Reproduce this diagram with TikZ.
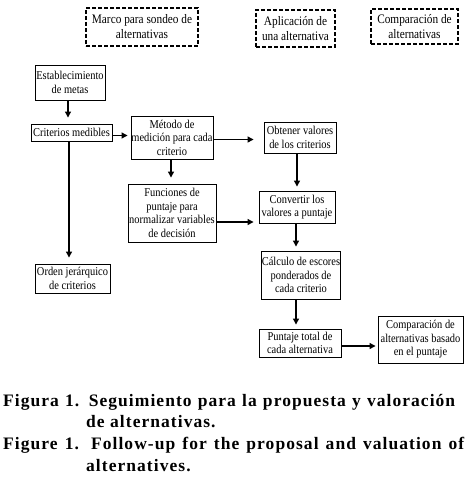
\documentclass[tikz,border=0pt]{standalone}
\usepackage{fontspec}
\setmainfont{Liberation Serif}
\newfontfamily\boxfont[FakeStretch=0.87]{Liberation Serif}
\newfontfamily\capfont[LetterSpace=6]{Liberation Serif}
\usetikzlibrary{arrows.meta}
\tikzset{
  box/.style={draw, line width=0.9pt, align=center, inner sep=0pt, font=\boxfont\fontsize{12}{13.5}\selectfont},
  dbox/.style={draw, dashed, dash pattern=on 4pt off 2pt, line width=1.4pt, align=center, inner sep=0pt, font=\boxfont\fontsize{13}{15}\selectfont},
  arr/.style={line width=1.2pt, -{Triangle[length=6pt,width=6pt]}},
  captext/.style={anchor=base west, inner sep=0pt, font=\capfont\bfseries\fontsize{17.5}{20}\selectfont}
}
\begin{document}
\begin{tikzpicture}[x=1pt,y=-1pt]
\useasboundingbox (0,0) rectangle (472,484);
\fill[white] (0,0) rectangle (472,484);
% dashed header boxes
\node[dbox, minimum width=112pt, minimum height=38pt] (d1) at (142,27) {Marco para sondeo de\\alternativas};
\node[dbox, minimum width=79pt, minimum height=37pt] (d2) at (295.5,28.5) {Aplicación de\\una alternativa};
\node[dbox, minimum width=87pt, minimum height=35pt] (d3) at (414.5,26.5) {Comparación de\\alternativas};
% boxes
\node[box, minimum width=70pt, minimum height=35pt] (est) at (70,82.5) {Establecimiento\\de metas};
\node[box, minimum width=81pt, minimum height=17pt] (crit) at (71.5,132.5) {Criterios medibles};
\node[box, minimum width=82pt, minimum height=43pt] (met) at (172,137.5) {Método de\\medición para cada\\criterio};
\node[box, minimum width=72pt, minimum height=31pt] (obt) at (300,137.5) {Obtener valores\\de los criterios};
\node[box, minimum width=88pt, minimum height=58pt] (fun) at (172,213) {Funciones de\\puntaje para\\normalizar variables\\de decisión};
\node[box, minimum width=76pt, minimum height=32pt] (conv) at (297,207) {Convertir los\\valores a puntaje};
\node[box, minimum width=75pt, minimum height=29pt] (orden) at (72.5,278.5) {Orden jerárquico\\de criterios};
\node[box, minimum width=78pt, minimum height=48pt] (calc) at (301,275) {Cálculo de escores\\ponderados de\\cada criterio};
\node[box, minimum width=82pt, minimum height=28pt] (punt) at (300,343) {Puntaje total de\\cada alternativa};
\node[box, minimum width=85pt, minimum height=47pt] (comp) at (420.5,339.5) {Comparación de\\alternativas basado\\en el puntaje};
% arrows
\draw[arr, shorten >=6pt] ([xshift=-2pt]est.south) -- ([xshift=-2pt]est.south |- crit.north);
\draw[arr, shorten >=3pt] ([yshift=-3pt]crit.east) -- ([yshift=-3pt]crit.east -| met.west);
\draw[arr, shorten >=10pt] ([yshift=-2pt]met.east) -- ([yshift=-2pt]met.east -| obt.west);
\draw[arr, shorten >=6pt] ([xshift=-1pt]met.south) -- ([xshift=-1pt]met.south |- fun.north);
\draw[arr, shorten >=4pt] ([xshift=-3pt]obt.south) -- ([xshift=-3pt]obt.south |- conv.north);
\draw[arr, shorten >=5pt] ([yshift=-9pt]fun.east) -- ([yshift=-9pt]fun.east -| conv.west);
\draw[arr, shorten >=6pt] ([xshift=-2.5pt]crit.south) -- ([xshift=-2.5pt]crit.south |- orden.north);
\draw[arr, shorten >=4pt] ([xshift=-1pt]conv.south) -- ([xshift=-1pt]conv.south |- calc.north);
\draw[arr, shorten >=4pt] ([xshift=-5pt]calc.south) -- ([xshift=-5pt]calc.south |- punt.north);
\draw[arr, shorten >=2pt] ([yshift=-3pt]punt.east) -- ([yshift=-3pt]punt.east -| comp.west);
% caption
\node[captext] (c1) at (3,406) {\makebox[452pt][s]{Figura 1. Seguimiento para la propuesta y valoración}};
\node[captext] (c2) at (86,427) {de alternativas.};
\node[captext] (c3) at (3,449) {\makebox[461pt][s]{Figure 1. Follow-up for the proposal and valuation of}};
\node[captext] (c4) at (86,471) {alternatives.};
\end{tikzpicture}
\end{document}
